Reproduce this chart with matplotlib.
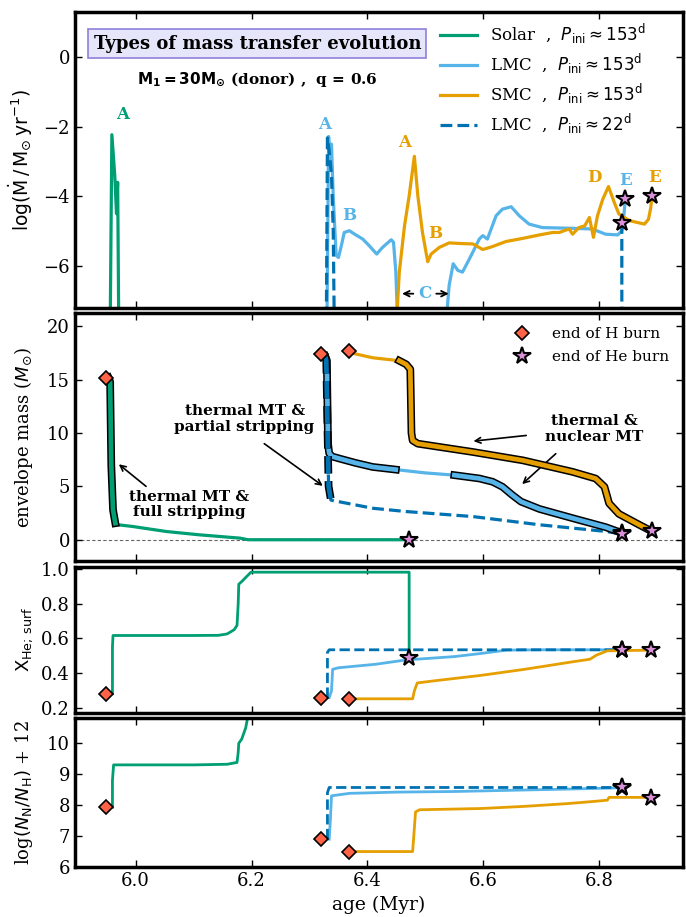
import numpy as np
import matplotlib
matplotlib.use("Agg")
import matplotlib.pyplot as plt
import matplotlib.patheffects as pe

plt.rcParams['font.family'] = 'serif'
plt.rcParams['font.serif'] = ['DejaVu Serif']
plt.rcParams['mathtext.fontset'] = 'dejavusans'

C_SOLAR = '#009E73'
C_LMC = '#56B4E9'
C_SMC = '#E69F00'
C_LMC22 = '#0072B2'
C_HEND = '#FF6347'
C_HEEND = '#DA8FD9'

# ---- mass transfer rate, log(Mdot) ----
solar_mdot_age = [5.956, 5.959, 5.964, 5.967, 5.969, 5.971]
solar_mdot = [-8, -2.23, -3.4, -4.5, -3.6, -8]

lmc_mdot_age = [6.330, 6.333, 6.336, 6.338, 6.341, 6.346, 6.350, 6.355, 6.360, 6.369, 6.378,
                6.392, 6.403, 6.416, 6.426, 6.441, 6.445, 6.449, 6.453, np.nan,
                6.534, 6.541, 6.548, 6.556, 6.564, 6.576, 6.585, 6.593, 6.599, 6.607, 6.622,
                6.633, 6.648, 6.662, 6.679, 6.702, 6.754, 6.788, 6.811, 6.832, 6.839, 6.843, 6.845]
lmc_mdot = [-8, -2.28, -3.0, -2.5, -4.0, -5.7, -5.76, -5.42, -5.04, -4.99, -5.09,
            -5.23, -5.42, -5.66, -5.47, -5.25, -5.32, -6.17, -8, np.nan,
            -8, -6.56, -5.94, -6.13, -6.18, -5.8, -5.5, -5.23, -5.13, -5.23, -4.56,
            -4.37, -4.3, -4.56, -4.8, -4.9, -4.92, -4.94, -5.09, -5.11, -4.99, -4.47, -4.09]

smc_mdot_age = [6.449, 6.455, 6.464, 6.472, 6.481, 6.487, 6.495, 6.504, 6.510, 6.524, 6.541,
                6.564, 6.582, 6.599, 6.615, 6.639, 6.668, 6.697, 6.720, 6.731, 6.748, 6.754,
                6.765, 6.775, 6.783, 6.790, 6.797, 6.806, 6.816, 6.826, 6.834, 6.852, 6.878,
                6.885, 6.889, 6.891]
smc_mdot = [-8, -6.18, -4.85, -3.99, -2.85, -3.99, -5.04, -5.88, -5.66, -5.47, -5.34,
            -5.36, -5.37, -5.53, -5.45, -5.30, -5.21, -5.11, -5.04, -5.04, -4.94, -5.09,
            -4.90, -4.85, -4.61, -5.18, -4.56, -4.09, -3.72, -4.18, -4.51, -4.70, -4.80,
            -4.66, -4.32, -4.0]

lmc22_mdot_age = [6.329, 6.331, 6.334, 6.338, 6.341, 6.343, np.nan, 6.839, 6.839]
lmc22_mdot = [-8, -2.32, -2.7, -3.4, -5.0, -8, np.nan, -8, -4.77]

# ---- envelope mass ----
solar_env_age = [5.953, 5.956, 5.958, 5.961, 5.965, 5.970, 5.995, 6.053, 6.110, 6.180, 6.194, 6.472]
solar_env = [15.2, 14.8, 7.0, 2.8, 1.55, 1.4, 1.24, 0.77, 0.46, 0.15, 0.0, 0.0]

lmc_env_age = [6.327, 6.330, 6.332, 6.334, 6.339, 6.352, 6.380, 6.409, 6.449, 6.500, 6.550,
               6.593, 6.616, 6.633, 6.650, 6.665, 6.697, 6.754, 6.811, 6.840]
lmc_env = [17.2, 16.8, 9.0, 8.1, 7.8, 7.6, 7.19, 6.82, 6.57, 6.26, 6.05,
           5.74, 5.43, 4.96, 4.19, 3.57, 2.88, 2.02, 1.18, 0.62]

lmc22_env_age = [6.327, 6.329, 6.333, 6.337, 6.345, 6.352, 6.409, 6.467, 6.582, 6.697, 6.811, 6.839]
lmc22_env = [17.2, 16.8, 5.0, 3.72, 3.6, 3.55, 2.95, 2.64, 2.17, 1.40, 0.78, 0.55]

smc_env_age = [6.372, 6.409, 6.455, 6.467, 6.474, 6.476, 6.478, 6.487, 6.582, 6.668, 6.754,
               6.794, 6.809, 6.814, 6.817, 6.834, 6.869, 6.891]
smc_env = [17.5, 17.05, 16.77, 16.43, 15.97, 10.0, 9.3, 9.0, 8.22, 7.44, 6.36,
           5.73, 4.96, 4.0, 3.41, 2.42, 1.40, 0.78]

# thermal / nuclear MT phases drawn with a black outline
solar_mt = [(5.953, 5.966)]
lmc_mt = [(6.327, 6.449), (6.550, 6.840)]
lmc22_mt = [(6.327, 6.338)]
smc_mt = [(6.455, 6.891)]

# ---- surface helium mass fraction ----
solar_xhe_age = [5.960, 5.960, 5.961, 6.100, 6.143, 6.158, 6.170, 6.175, 6.177, 6.178, 6.183, 6.199, 6.472, 6.472]
solar_xhe = [0.283, 0.55, 0.617, 0.617, 0.618, 0.626, 0.650, 0.675, 0.80, 0.911, 0.926, 0.98, 0.98, 0.487]

lmc_xhe_age = [6.334, 6.338, 6.340, 6.350, 6.414, 6.467, 6.550, 6.596, 6.640, 6.700, 6.840]
lmc_xhe = [0.26, 0.30, 0.423, 0.432, 0.452, 0.477, 0.496, 0.514, 0.533, 0.535, 0.535]

lmc22_xhe_age = [6.331, 6.331, 6.334, 6.840]
lmc22_xhe = [0.26, 0.52, 0.535, 0.535]

smc_xhe_age = [6.372, 6.478, 6.481, 6.486, 6.520, 6.595, 6.671, 6.746, 6.784, 6.795, 6.814, 6.889]
smc_xhe = [0.254, 0.254, 0.30, 0.345, 0.359, 0.388, 0.423, 0.462, 0.481, 0.504, 0.529, 0.533]

# ---- surface nitrogen abundance ----
solar_nn_age = [5.960, 5.960, 5.962, 6.100, 6.158, 6.175, 6.177, 6.178, 6.183, 6.190, 6.195]
solar_nn = [7.93, 8.8, 9.30, 9.30, 9.32, 9.38, 9.7, 10.0, 10.13, 10.5, 11.0]

lmc_nn_age = [6.334, 6.336, 6.338, 6.369, 6.450, 6.550, 6.650, 6.750, 6.840]
lmc_nn = [6.9, 7.5, 8.30, 8.38, 8.42, 8.44, 8.48, 8.52, 8.56]

lmc22_nn_age = [6.331, 6.331, 6.334, 6.840]
lmc22_nn = [6.9, 8.4, 8.57, 8.57]

smc_nn_age = [6.372, 6.478, 6.480, 6.483, 6.490, 6.595, 6.671, 6.746, 6.791, 6.814, 6.817, 6.889]
smc_nn = [6.50, 6.50, 7.0, 7.78, 7.85, 7.89, 7.96, 8.05, 8.12, 8.16, 8.25, 8.25]

# end of H burning (diamonds) and end of He burning (stars)
h_end_age = [5.949, 6.320, 6.368]
h_end_env = [15.19, 17.42, 17.67]
h_end_xhe = [0.283, 0.258, 0.254]
h_end_nn = [7.93, 6.90, 6.50]

he_end_mdot_age = [6.845, 6.839, 6.891]
he_end_mdot = [-4.09, -4.77, -4.0]
he_end_env_age = [6.472, 6.840, 6.839, 6.891]
he_end_env = [0.0, 0.62, 0.55, 0.78]
he_end_age = [6.840, 6.840, 6.889]
he_end_xhe_age = [6.472] + he_end_age
he_end_xhe = [0.487, 0.535, 0.535, 0.533]
he_end_nn = [8.56, 8.57, 8.23]


def mt_outline(ax, age, val, ranges, color, ls='-'):
    age = np.asarray(age, dtype=float)
    val = np.asarray(val, dtype=float)
    for lo, hi in ranges:
        m = (age >= lo) & (age <= hi)
        ax.plot(age[m], val[m], color=color, ls=ls, lw=3.4, zorder=4,
                path_effects=[pe.Stroke(linewidth=5.6, foreground='k'), pe.Normal()])


def h_end(ax, x, y):
    ax.plot(x, y, ls='none', marker='D', ms=7.5, mfc=C_HEND, mec='k', mew=1.2, zorder=6)


def he_end(ax, x, y):
    ax.plot(x, y, ls='none', marker='*', ms=13, mfc=C_HEEND, mec='k', mew=1.5, zorder=6)


fig, axes = plt.subplots(4, 1, figsize=(6.86, 9.17), dpi=100, sharex=True,
                         gridspec_kw=dict(height_ratios=[2.03, 1.70, 1.0, 1.02]))
fig.subplots_adjust(left=0.109, right=0.996, top=0.987, bottom=0.0545, hspace=0.028)
ax1, ax2, ax3, ax4 = axes

# panel 1: mass transfer rate
ax1.plot(solar_mdot_age, solar_mdot, color=C_SOLAR, lw=2.3, label=r'Solar  ,  $P_{\rm ini} \approx 153^{\rm d}$')
ax1.plot(lmc_mdot_age, lmc_mdot, color=C_LMC, lw=2.3, label=r'LMC  ,  $P_{\rm ini} \approx 153^{\rm d}$')
ax1.plot(smc_mdot_age, smc_mdot, color=C_SMC, lw=2.3, label=r'SMC  ,  $P_{\rm ini} \approx 153^{\rm d}$')
ax1.plot(lmc22_mdot_age, lmc22_mdot, color=C_LMC22, lw=2.3, ls='--', label=r'LMC  ,  $P_{\rm ini} \approx 22^{\rm d}$')
he_end(ax1, he_end_mdot_age, he_end_mdot)
ax1.set_ylim(-7.2, 1.3)
ax1.set_yticks([0, -2, -4, -6])
ax1.set_ylabel(r'$\mathrm{log(\dot{M}\,/\,M_{\odot}\,yr^{-1})}$', fontsize=13.5)
ax1.legend(loc='upper right', bbox_to_anchor=(0.955, 1.0), frameon=False, fontsize=12,
           handlelength=2.2, labelspacing=0.35, borderaxespad=0.2)

phase_labels = [('A', 5.978, -1.66, C_SOLAR), ('A', 6.326, -1.94, C_LMC), ('B', 6.369, -4.54, C_LMC),
                ('A', 6.464, -2.45, C_SMC), ('B', 6.517, -5.07, C_SMC), ('D', 6.791, -3.47, C_SMC),
                ('E', 6.845, -3.56, C_LMC), ('E', 6.896, -3.47, C_SMC)]
for s, x, y, c in phase_labels:
    ax1.text(x, y, s, color=c, fontsize=12, fontweight='bold', ha='center', va='center')
ax1.text(6.499, -6.8, 'C', color=C_LMC, fontsize=12, fontweight='bold', ha='center', va='center')
ax1.annotate('', xy=(6.455, -6.8), xytext=(6.484, -6.8), arrowprops=dict(arrowstyle='->', lw=1.3))
ax1.annotate('', xy=(6.545, -6.8), xytext=(6.514, -6.8), arrowprops=dict(arrowstyle='->', lw=1.3))

ax1.text(0.30, 0.892, 'Types of mass transfer evolution', transform=ax1.transAxes, fontsize=13,
         fontweight='bold', ha='center', va='center',
         bbox=dict(boxstyle='square,pad=0.3', fc='#E6E6FA', ec='#8F7FDB', lw=1.2))
ax1.text(0.30, 0.771, r'$\mathbf{M_1 = 30M_{\odot}}$ (donor) ,  q = 0.6', transform=ax1.transAxes,
         fontsize=11, fontweight='bold', ha='center', va='center')

# panel 2: envelope mass
ax2.axhline(0, color='0.4', lw=0.8, ls='--', dashes=(3, 2), zorder=0)
ax2.plot(solar_env_age, solar_env, color=C_SOLAR, lw=2.3)
ax2.plot(lmc_env_age, lmc_env, color=C_LMC, lw=2.3)
ax2.plot(lmc22_env_age, lmc22_env, color=C_LMC22, lw=2.3, ls='--')
ax2.plot(smc_env_age, smc_env, color=C_SMC, lw=2.3)
mt_outline(ax2, solar_env_age, solar_env, solar_mt, C_SOLAR)
mt_outline(ax2, lmc_env_age, lmc_env, lmc_mt, C_LMC)
mt_outline(ax2, lmc22_env_age, lmc22_env, lmc22_mt, C_LMC22, ls='--')
mt_outline(ax2, smc_env_age, smc_env, smc_mt, C_SMC)
ax2.plot([], [], ls='none', marker='D', ms=7.5, mfc=C_HEND, mec='k', mew=1.2, label='end of H burn')
ax2.plot([], [], ls='none', marker='*', ms=13, mfc=C_HEEND, mec='k', mew=1.5, label='end of He burn')
h_end(ax2, h_end_age, h_end_env)
he_end(ax2, he_end_env_age, he_end_env)
ax2.set_ylim(-2.0, 21.2)
ax2.set_yticks([0, 5, 10, 15, 20])
ax2.set_ylabel(r'envelope mass ($M_{\odot}$)', fontsize=13)
ax2.legend(loc='upper right', frameon=False, fontsize=11, handletextpad=1.0,
           labelspacing=0.6, borderaxespad=0.5)

ann = dict(fontsize=11, fontweight='bold', ha='center', va='center', linespacing=1.15)
arr = dict(arrowstyle='->', lw=1.2, color='k', shrinkA=0, shrinkB=0)
ax2.text(6.093, 3.3, 'thermal MT &\nfull stripping', **ann)
ax2.annotate('', xy=(5.971, 7.07), xytext=(6.018, 5.0), arrowprops=arr)
ax2.text(6.188, 11.3, 'thermal MT &\npartial stripping', **ann)
ax2.annotate('', xy=(6.323, 5.05), xytext=(6.222, 9.0), arrowprops=arr)
ax2.text(6.791, 10.4, 'thermal &\nnuclear MT', **ann)
ax2.annotate('', xy=(6.583, 9.24), xytext=(6.674, 9.77), arrowprops=arr)
ax2.annotate('', xy=(6.667, 5.21), xytext=(6.725, 8.06), arrowprops=arr)

# panel 3: surface helium
ax3.plot(solar_xhe_age, solar_xhe, color=C_SOLAR, lw=2.0)
ax3.plot(lmc_xhe_age, lmc_xhe, color=C_LMC, lw=2.0)
ax3.plot(lmc22_xhe_age, lmc22_xhe, color=C_LMC22, lw=2.0, ls='--')
ax3.plot(smc_xhe_age, smc_xhe, color=C_SMC, lw=2.0)
h_end(ax3, h_end_age, h_end_xhe)
he_end(ax3, he_end_xhe_age, he_end_xhe)
ax3.set_ylim(0.175, 1.01)
ax3.set_yticks([0.2, 0.4, 0.6, 0.8, 1.0])
ax3.set_ylabel(r'$\mathrm{X_{He;\,surf}}$', fontsize=13)

# panel 4: surface nitrogen
ax4.plot(solar_nn_age, solar_nn, color=C_SOLAR, lw=2.0)
ax4.plot(lmc_nn_age, lmc_nn, color=C_LMC, lw=2.0)
ax4.plot(lmc22_nn_age, lmc22_nn, color=C_LMC22, lw=2.0, ls='--')
ax4.plot(smc_nn_age, smc_nn, color=C_SMC, lw=2.0)
h_end(ax4, h_end_age, h_end_nn)
he_end(ax4, he_end_age, he_end_nn)
ax4.set_ylim(6.0, 10.8)
ax4.set_yticks([6, 7, 8, 9, 10])
ax4.set_ylabel(r'log$(N_{\rm N}/N_{\rm H})$ + 12', fontsize=13)
ax4.set_xlabel('age (Myr)', fontsize=13.5)

ax4.set_xlim(5.895, 6.945)
ax4.set_xticks([6.0, 6.2, 6.4, 6.6, 6.8])
for ax in axes:
    ax.tick_params(direction='in', top=True, right=True, length=5, width=1, labelsize=13)
    for sp in ax.spines.values():
        sp.set_linewidth(2.5)
fig.align_ylabels(axes)

fig.savefig('out.png', dpi=100)
